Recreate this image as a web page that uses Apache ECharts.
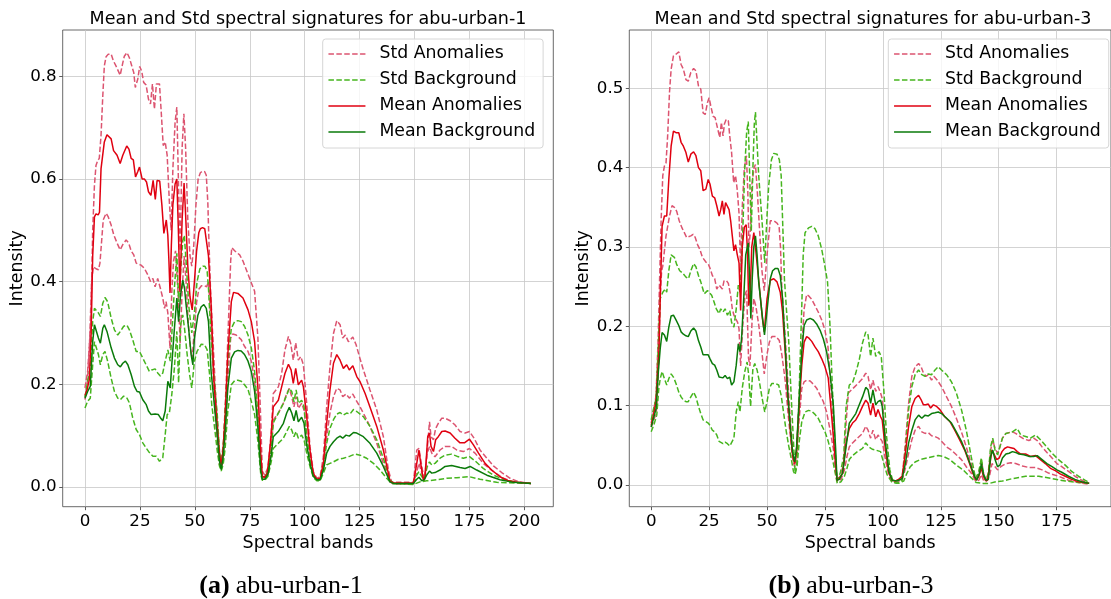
<!DOCTYPE html>
<html><head><meta charset="utf-8">
<script src="https://cdn.jsdelivr.net/npm/echarts@6/dist/echarts.min.js"></script>
<style>html,body{margin:0;padding:0;background:#fff}#c{width:1111px;height:599px}</style>
</head><body><div id="c"></div>
<script>
// ---------- tick labels ----------
const xTicks1 = [0,25,50,75,100,125,150,175,200];
const xTicks3 = [0,25,50,75,100,125,150,175];
const yTicks1 = [0,0.2,0.4,0.6,0.8];
const yTicks3 = [0,0.1,0.2,0.3,0.4,0.5];
const legendNames = ['Std Anomalies','Std Background','Mean Anomalies','Mean Background'];

// ---------- abu-urban-1 : [band, intensity] ----------
const u1MeanAnom = [[0,0.178],[1,0.19],[2,0.21],[2.8,0.30],[3.5,0.45],[4.3,0.526],[5,0.532],[6,0.53],[6.6,0.535],[7.3,0.62],[8.8,0.672],[10,0.686],[11.9,0.678],[13,0.655],[14.6,0.646],[16,0.63],[17.2,0.646],[19,0.664],[20,0.658],[21,0.64],[22,0.637],[23,0.604],[24,0.614],[24.8,0.623],[26,0.60],[27,0.60],[28,0.594],[28.9,0.575],[30,0.568],[31,0.597],[32,0.56],[32.8,0.597],[34,0.596],[35,0.549],[35.9,0.494],[37,0.52],[37.7,0.49],[38.2,0.44],[38.7,0.378],[39.3,0.47],[40,0.55],[41,0.59],[41.8,0.60],[42.5,0.50],[43.2,0.38],[44.2,0.52],[45.1,0.592],[45.8,0.53],[46.8,0.43],[47.8,0.37],[48.8,0.345],[49.8,0.40],[50.8,0.46],[51.8,0.495],[52.5,0.503],[53.5,0.505],[54.5,0.503],[55.2,0.50],[56.2,0.45],[57.4,0.355],[58.7,0.206],[60.2,0.115],[61.2,0.064],[62,0.042],[62.8,0.07],[63.8,0.14],[65,0.258],[66.6,0.361],[67.6,0.379],[69.6,0.377],[71.9,0.368],[74.2,0.345],[75.7,0.322],[77.2,0.283],[78.7,0.193],[80,0.064],[80.7,0.021],[81.8,0.019],[83,0.027],[84.5,0.089],[85.7,0.156],[88,0.169],[89.5,0.195],[91,0.221],[92.6,0.239],[93.8,0.228],[94.8,0.202],[95.9,0.231],[97.1,0.199],[98.6,0.208],[99.4,0.195],[100.9,0.137],[102.4,0.072],[103.9,0.027],[105.5,0.015],[107,0.017],[108.5,0.046],[110,0.124],[111.5,0.189],[113.1,0.241],[114.6,0.258],[116.1,0.247],[117.6,0.231],[119.1,0.238],[120.3,0.228],[121.9,0.236],[123.7,0.215],[125.2,0.205],[127.5,0.182],[129.7,0.156],[132.8,0.118],[135.8,0.072],[138.8,0.012],[140.4,0.008],[145,0.008],[149.5,0.008],[151,0.046],[152,0.072],[152.8,0.046],[154,0.014],[154.8,0.02],[156,0.098],[156.8,0.105],[157.5,0.079],[158.6,0.069],[159.6,0.092],[160.8,0.098],[162.4,0.108],[163.9,0.109],[166.2,0.105],[168.4,0.095],[170.7,0.086],[172.7,0.086],[175,0.093],[176.8,0.082],[179.1,0.066],[182.1,0.046],[185.1,0.033],[188.9,0.020],[192.7,0.012],[196.5,0.009],[203,0.007]];
const u1MeanBg = [[0,0.173],[1.2,0.186],[2.4,0.196],[3.5,0.283],[4.3,0.316],[5,0.313],[6.1,0.29],[7,0.28],[8.1,0.309],[8.8,0.316],[10,0.303],[11.9,0.271],[13.4,0.251],[14.9,0.238],[16.1,0.234],[17.2,0.241],[18.4,0.245],[19.5,0.238],[21,0.219],[22.5,0.196],[23.7,0.186],[24.8,0.185],[26.3,0.170],[27.8,0.161],[28.9,0.148],[30.1,0.141],[31.9,0.142],[33.4,0.141],[34.3,0.135],[35.4,0.129],[36.5,0.148],[37.7,0.206],[38.8,0.193],[39.5,0.238],[40.7,0.309],[41.8,0.368],[42.6,0.322],[43.5,0.374],[44.5,0.403],[45.3,0.387],[46,0.355],[47.3,0.303],[48.3,0.258],[49.1,0.238],[49.8,0.29],[51.4,0.335],[52.9,0.351],[54.1,0.355],[55.2,0.348],[56.2,0.322],[57.4,0.225],[59,0.154],[60.2,0.102],[61.2,0.05],[62,0.034],[62.8,0.057],[63.8,0.109],[65,0.193],[66.6,0.251],[68.1,0.263],[69.6,0.266],[71.1,0.265],[72.6,0.258],[74.2,0.245],[75.7,0.225],[77.2,0.186],[78.7,0.115],[80,0.031],[80.7,0.015],[81.8,0.015],[83.3,0.025],[84.8,0.063],[85.7,0.098],[88,0.108],[90.3,0.124],[91.8,0.144],[93,0.155],[94.1,0.144],[95.1,0.129],[96.1,0.149],[97.1,0.127],[98.6,0.136],[99.7,0.124],[100.9,0.082],[102.4,0.046],[103.9,0.021],[105.5,0.014],[107,0.014],[108.5,0.033],[110,0.066],[111.5,0.079],[113.1,0.088],[114.6,0.095],[116.1,0.099],[117.3,0.095],[118.8,0.101],[120.3,0.099],[122.2,0.106],[123.7,0.105],[126.7,0.098],[129.7,0.085],[132.8,0.066],[135.8,0.040],[138.8,0.010],[140.4,0.007],[149.5,0.007],[151,0.015],[152,0.019],[153.3,0.012],[154.4,0.014],[155.5,0.023],[156.8,0.031],[157.8,0.027],[159.3,0.028],[161.6,0.033],[163.9,0.040],[166.9,0.042],[170.7,0.038],[173,0.036],[175.3,0.040],[178.3,0.033],[182.9,0.023],[188.9,0.014],[195,0.009],[203,0.007]];
const u1StdAnomHi = [[0,0.193],[1.2,0.225],[2.7,0.322],[3.5,0.50],[4.3,0.588],[5,0.626],[5.8,0.636],[6.5,0.64],[7.3,0.685],[8.1,0.762],[8.8,0.82],[9.6,0.838],[10.6,0.843],[11.9,0.843],[12.9,0.83],[14.1,0.82],[14.9,0.817],[16,0.802],[17.2,0.826],[17.9,0.839],[19.1,0.846],[20.2,0.836],[21.3,0.82],[22.2,0.807],[22.9,0.778],[24,0.794],[24.9,0.819],[25.8,0.81],[26.7,0.788],[27.8,0.783],[28.9,0.755],[29.8,0.746],[30.7,0.785],[31.6,0.736],[32.5,0.785],[33.9,0.785],[34.7,0.73],[35.6,0.665],[36.5,0.672],[37.4,0.646],[38.4,0.555],[39.2,0.50],[40,0.62],[41,0.71],[41.8,0.74],[42.5,0.60],[43.3,0.46],[44.2,0.66],[45,0.727],[45.8,0.66],[46.8,0.52],[47.8,0.45],[48.6,0.43],[49.5,0.47],[50.5,0.55],[51.5,0.60],[52.5,0.612],[53.5,0.615],[54.5,0.614],[55.2,0.607],[55.9,0.555],[56.4,0.48],[57.1,0.387],[58.2,0.29],[59.7,0.16],[61.2,0.07],[62,0.05],[63.1,0.089],[64.3,0.206],[65.3,0.322],[66.3,0.44],[66.8,0.466],[68.1,0.46],[70.4,0.452],[71.9,0.44],[74.6,0.41],[77.2,0.381],[78.7,0.29],[80,0.128],[80.7,0.031],[81.8,0.023],[83.3,0.038],[84.8,0.109],[85.7,0.182],[88,0.195],[89.5,0.221],[91,0.267],[92.6,0.293],[93.6,0.28],[94.8,0.247],[95.9,0.281],[97.1,0.247],[98.2,0.254],[99.4,0.238],[100.9,0.163],[102.4,0.079],[103.9,0.03],[105.5,0.017],[107,0.02],[108.5,0.059],[110,0.156],[111.5,0.234],[113.1,0.299],[114.6,0.324],[116.1,0.316],[117.3,0.29],[118.5,0.296],[119.9,0.283],[121.9,0.292],[123.4,0.277],[124.9,0.254],[126.7,0.228],[129.7,0.189],[132.8,0.15],[135.8,0.098],[138.1,0.033],[139.6,0.009],[149.5,0.009],[151,0.072],[152,0.075],[153.3,0.04],[154.4,0.014],[155.5,0.059],[156.8,0.127],[157.5,0.098],[158.6,0.092],[159.6,0.114],[160.8,0.124],[162.4,0.134],[163.9,0.134],[166.2,0.129],[168.4,0.121],[170.7,0.108],[173,0.105],[175,0.108],[177.1,0.095],[179.8,0.072],[182.9,0.056],[185.9,0.041],[189.7,0.028],[193.5,0.017],[197.3,0.01],[203,0.007]];
const u1StdAnomLo = [[0,0.17],[1,0.20],[2,0.27],[3,0.40],[3.8,0.429],[5,0.425],[6.1,0.423],[6.8,0.436],[8.3,0.52],[9.6,0.533],[10.6,0.526],[11.9,0.51],[13.1,0.491],[14.6,0.475],[16,0.462],[17.2,0.472],[18.7,0.481],[19.9,0.475],[21,0.46],[22.2,0.452],[23.3,0.436],[24,0.439],[25.5,0.432],[27,0.426],[28.6,0.413],[29.8,0.40],[30.9,0.406],[31.9,0.39],[33.1,0.406],[34.3,0.387],[35.4,0.368],[36.2,0.348],[36.9,0.361],[37.7,0.339],[38.7,0.27],[39.5,0.38],[40.3,0.44],[41.2,0.46],[41.9,0.46],[42.6,0.36],[43.3,0.28],[44.2,0.38],[45.1,0.45],[46,0.40],[47,0.32],[48,0.27],[48.8,0.25],[49.8,0.31],[50.8,0.36],[51.8,0.385],[53,0.392],[54.4,0.392],[55.4,0.39],[56.2,0.40],[57.4,0.32],[58.7,0.18],[60.2,0.09],[61.2,0.044],[62,0.034],[62.8,0.05],[63.8,0.1],[65,0.206],[66.3,0.29],[67.3,0.298],[68.8,0.296],[71.1,0.287],[72.6,0.274],[74.2,0.264],[75.7,0.245],[77.2,0.206],[78.7,0.128],[80,0.038],[80.7,0.018],[82,0.018],[83.3,0.025],[84.8,0.07],[85.7,0.13],[88,0.144],[90.3,0.163],[91.8,0.182],[93,0.192],[94.1,0.176],[95.1,0.156],[96.1,0.176],[97.1,0.153],[98.6,0.163],[99.7,0.15],[100.9,0.105],[102.4,0.059],[103.9,0.023],[105.5,0.014],[107,0.014],[108.5,0.036],[110,0.098],[111.5,0.144],[113.1,0.176],[114.6,0.192],[116.1,0.189],[117.3,0.176],[118.8,0.181],[120.3,0.173],[121.9,0.181],[123.4,0.169],[125.2,0.156],[127.5,0.137],[129.7,0.118],[132.8,0.085],[135.8,0.046],[138.8,0.01],[140.4,0.006],[149.5,0.006],[151,0.03],[152,0.046],[153.3,0.027],[154.4,0.012],[155.8,0.066],[156.8,0.079],[157.8,0.066],[159.3,0.059],[161.6,0.072],[163.9,0.079],[166.9,0.079],[169.2,0.072],[172.2,0.069],[175,0.075],[177.5,0.066],[181.3,0.046],[185.9,0.03],[190.4,0.017],[195,0.01],[203,0.007]];
const u1StdBgHi = [[0,0.175],[1.2,0.206],[2.4,0.232],[3.5,0.322],[4.3,0.348],[5,0.351],[6.1,0.339],[7,0.332],[8.1,0.358],[9.1,0.369],[10.3,0.361],[11.9,0.329],[13.4,0.306],[14.9,0.296],[16.1,0.303],[17.6,0.313],[19.1,0.315],[20.2,0.306],[21.7,0.287],[23.3,0.264],[24.8,0.264],[26.3,0.251],[27.8,0.238],[29.3,0.225],[30.4,0.228],[31.9,0.23],[33.1,0.222],[34.3,0.216],[35.4,0.222],[36.5,0.245],[37.7,0.267],[38.8,0.245],[39.5,0.296],[40.7,0.387],[41.8,0.455],[42.6,0.36],[43.5,0.42],[44.5,0.48],[45.2,0.49],[46,0.44],[47.3,0.35],[48.6,0.30],[49.8,0.34],[51,0.40],[52.3,0.425],[53.6,0.43],[54.6,0.43],[55.6,0.42],[56.2,0.387],[57.4,0.29],[59,0.2],[60.2,0.141],[61.2,0.07],[62,0.044],[62.9,0.076],[63.8,0.148],[65,0.245],[66.6,0.309],[68.1,0.322],[69.6,0.324],[71.1,0.322],[72.6,0.313],[74.2,0.296],[75.7,0.271],[77.2,0.225],[78.7,0.141],[80,0.05],[80.7,0.019],[81.8,0.019],[83.3,0.031],[84.8,0.076],[85.7,0.125],[88,0.144],[90.3,0.163],[91.8,0.179],[93,0.192],[94.1,0.186],[95.1,0.166],[96.1,0.189],[97.1,0.163],[98.6,0.169],[99.7,0.156],[100.9,0.098],[102.4,0.053],[103.9,0.023],[105.5,0.012],[107,0.014],[108.5,0.04],[110,0.085],[111.5,0.114],[113.1,0.131],[114.6,0.142],[116.1,0.145],[117.6,0.14],[119.1,0.144],[120.6,0.142],[122.2,0.151],[123.7,0.147],[126.7,0.137],[129.7,0.118],[132.8,0.092],[135.8,0.056],[138.8,0.014],[140.4,0.007],[149.5,0.007],[151,0.023],[152,0.03],[153.3,0.02],[154.4,0.015],[155.8,0.04],[156.8,0.049],[157.8,0.043],[159.3,0.046],[161.6,0.056],[163.9,0.062],[166.9,0.064],[169.2,0.06],[172.2,0.056],[175,0.059],[177.5,0.051],[181.3,0.036],[185.9,0.023],[190.4,0.015],[196.5,0.009],[203,0.007]];
const u1StdBgLo = [[0,0.154],[1.2,0.167],[2.4,0.173],[3.5,0.238],[4.3,0.283],[5,0.285],[6.1,0.258],[7,0.238],[8.1,0.258],[9.1,0.264],[10.3,0.245],[11.9,0.212],[13.4,0.186],[14.9,0.173],[16.1,0.17],[17.6,0.177],[19.1,0.173],[20.2,0.164],[21.7,0.135],[23.3,0.112],[24.8,0.102],[26.3,0.086],[27.8,0.076],[29.3,0.067],[30.9,0.06],[32.4,0.06],[33.9,0.05],[34.7,0.049],[35.4,0.057],[36.5,0.102],[37.4,0.141],[38.4,0.144],[39.5,0.18],[40.7,0.232],[41.8,0.303],[42.6,0.203],[43.5,0.316],[44.5,0.335],[45.3,0.309],[46.5,0.258],[47.6,0.219],[48.6,0.193],[49.8,0.245],[51,0.264],[52.9,0.278],[54.4,0.277],[55.6,0.267],[56.7,0.219],[57.7,0.16],[59,0.115],[60.2,0.07],[61.2,0.041],[62,0.031],[62.9,0.044],[63.8,0.076],[65,0.148],[66.6,0.199],[68.1,0.207],[69.6,0.208],[71.1,0.206],[72.6,0.199],[74.2,0.19],[75.7,0.167],[77.2,0.141],[78.7,0.089],[80,0.025],[80.7,0.013],[81.8,0.013],[83.3,0.021],[84.8,0.05],[85.7,0.075],[88,0.085],[90.3,0.095],[91.8,0.108],[93,0.118],[94.1,0.111],[95.1,0.098],[96.1,0.108],[97.1,0.095],[98.6,0.101],[99.7,0.092],[100.9,0.066],[102.4,0.04],[103.9,0.019],[105.5,0.012],[107,0.012],[108.5,0.027],[110,0.043],[111.5,0.046],[113.1,0.049],[115.3,0.054],[117.6,0.056],[120.6,0.06],[122.9,0.064],[125.2,0.062],[128.2,0.056],[131.3,0.046],[134.3,0.033],[137.3,0.017],[139.6,0.007],[149.5,0.005],[152.5,0.01],[155.5,0.012],[160.1,0.014],[164.6,0.017],[169.2,0.018],[175,0.02],[179.8,0.015],[187.4,0.009],[203,0.007]];

// ---------- abu-urban-3 : [band, intensity] ----------
const u3MeanAnom = [[0,0.075],[1,0.088],[2.1,0.105],[3.3,0.164],[4,0.247],[4.7,0.326],[5.7,0.339],[6.7,0.339],[7.6,0.385],[8.6,0.427],[9.6,0.446],[10.7,0.444],[11.9,0.444],[12.9,0.432],[13.9,0.427],[15,0.419],[16,0.407],[17.1,0.417],[18.3,0.42],[19.3,0.415],[20.4,0.40],[21.4,0.396],[22.4,0.371],[23.6,0.373],[24.6,0.385],[25.4,0.379],[26.4,0.364],[27.4,0.362],[28.3,0.352],[29.3,0.339],[30,0.347],[30.7,0.358],[31.4,0.341],[32.1,0.356],[32.9,0.358],[33.6,0.347],[34.3,0.333],[35,0.314],[35.7,0.295],[36.4,0.303],[37.1,0.291],[37.9,0.28],[38.6,0.22],[39.3,0.30],[40.2,0.325],[41,0.328],[41.6,0.29],[42.1,0.226],[42.7,0.24],[43.4,0.30],[44.3,0.318],[45,0.30],[46,0.27],[47,0.24],[48,0.21],[48.8,0.193],[50,0.235],[51.4,0.258],[52.9,0.26],[54.3,0.256],[55.7,0.243],[56.7,0.218],[57.9,0.164],[59,0.109],[60,0.071],[61,0.038],[61.9,0.027],[62.7,0.042],[63.9,0.101],[65,0.151],[66,0.18],[67.1,0.187],[68.1,0.185],[69.3,0.181],[70.7,0.174],[72.1,0.168],[73.6,0.159],[75,0.149],[76.4,0.135],[77.8,0.09],[79.2,0.04],[80.2,0.006],[81.2,0.008],[82.6,0.015],[84.1,0.053],[85.5,0.071],[86.9,0.078],[88.3,0.082],[89.8,0.09],[91.2,0.099],[92.6,0.107],[93.6,0.103],[94.7,0.088],[95.7,0.103],[96.9,0.086],[97.9,0.095],[99,0.086],[99.7,0.082],[101.1,0.044],[102.6,0.015],[104,0.006],[105.4,0.005],[106.8,0.007],[108.3,0.011],[109.7,0.04],[111.1,0.074],[112.5,0.099],[113.9,0.109],[115.4,0.113],[116.4,0.108],[117.5,0.101],[118.5,0.101],[119.6,0.102],[120.6,0.097],[121.8,0.101],[123.2,0.099],[124.6,0.095],[126.7,0.086],[128.9,0.08],[131,0.069],[133.1,0.057],[135.3,0.044],[137.4,0.027],[138.8,0.015],[140.3,0.006],[141.4,0.011],[142.5,0.021],[143.4,0.011],[144.2,0.006],[145.2,0.006],[146.2,0.027],[147.1,0.044],[148.1,0.038],[149.1,0.032],[150.2,0.034],[151.4,0.042],[152.5,0.046],[153.8,0.048],[155.2,0.047],[156.6,0.046],[158,0.042],[159.5,0.039],[161.6,0.039],[163.7,0.036],[165.9,0.037],[168,0.032],[170.1,0.027],[172.3,0.021],[174.4,0.018],[176.5,0.014],[178.7,0.011],[181.5,0.007],[184.4,0.004],[187.2,0.003],[189,0.002]];
const u3MeanBg = [[0,0.073],[1,0.084],[2.1,0.096],[3.1,0.143],[3.9,0.172],[4.7,0.192],[5.7,0.189],[6.7,0.181],[7.6,0.199],[8.6,0.213],[9.6,0.214],[10.7,0.208],[11.9,0.201],[12.9,0.193],[13.9,0.19],[15,0.188],[16,0.187],[17.1,0.194],[18.3,0.198],[19.3,0.194],[20.4,0.182],[21.4,0.174],[22.4,0.164],[23.6,0.164],[24.6,0.164],[25.4,0.159],[26.4,0.153],[27.4,0.151],[28.3,0.145],[29.3,0.136],[30,0.138],[31,0.135],[31.9,0.138],[32.9,0.134],[33.9,0.136],[34.7,0.126],[35.7,0.13],[36.7,0.151],[37.6,0.178],[38.3,0.168],[39,0.184],[40,0.239],[40.8,0.29],[41.9,0.305],[42.5,0.26],[43,0.21],[43.6,0.26],[44.3,0.30],[45,0.314],[45.7,0.29],[46.4,0.256],[47.9,0.214],[48.9,0.189],[50,0.22],[51.4,0.26],[52.4,0.27],[53.6,0.273],[54.7,0.273],[55.7,0.264],[56.7,0.235],[57.9,0.172],[59,0.113],[60,0.075],[61,0.042],[61.9,0.029],[62.7,0.046],[63.9,0.109],[65,0.168],[66,0.201],[67.1,0.208],[68.6,0.21],[70,0.208],[71.4,0.203],[72.9,0.195],[74.3,0.184],[75.7,0.168],[77.1,0.143],[78.6,0.101],[79.6,0.046],[80.2,0.006],[81.2,0.007],[82.6,0.015],[84.1,0.048],[85.5,0.078],[86.9,0.084],[88.3,0.09],[89.8,0.101],[91.2,0.111],[92.6,0.123],[93.6,0.12],[94.7,0.103],[95.7,0.12],[96.9,0.101],[97.9,0.105],[99,0.107],[99.7,0.099],[101.1,0.053],[102.6,0.017],[104,0.006],[106.1,0.005],[108.3,0.008],[109.7,0.027],[111.1,0.053],[112.5,0.069],[113.9,0.082],[115.4,0.088],[116.8,0.084],[118.2,0.088],[119.6,0.087],[121,0.09],[122.5,0.091],[123.9,0.092],[125.3,0.09],[127.5,0.084],[129.6,0.078],[131.7,0.067],[133.9,0.055],[136,0.04],[138.1,0.023],[139.5,0.011],[140.5,0.006],[141.7,0.015],[142.5,0.027],[143.4,0.013],[144.5,0.006],[145.5,0.007],[146.5,0.036],[147.4,0.044],[148.4,0.032],[149.5,0.023],[150.5,0.025],[151.6,0.034],[153.1,0.039],[154.5,0.04],[155.9,0.042],[157.3,0.041],[158.7,0.039],[160.9,0.038],[163,0.036],[165.1,0.036],[166.6,0.037],[168.7,0.032],[170.8,0.027],[173,0.023],[175.1,0.019],[177.2,0.016],[180.1,0.011],[182.9,0.007],[185.8,0.004],[189,0.002]];
const u3StdAnomHi = [[0,0.078],[1,0.092],[2.1,0.113],[3,0.184],[3.6,0.256],[4.3,0.335],[5,0.39],[5.7,0.402],[6.4,0.406],[7.1,0.44],[7.9,0.495],[8.6,0.524],[9.6,0.541],[10.7,0.543],[11.9,0.546],[12.9,0.53],[13.9,0.524],[15,0.511],[16,0.509],[17.1,0.52],[18.3,0.525],[19.3,0.522],[20.4,0.503],[21.4,0.499],[22.4,0.469],[23.3,0.467],[24.3,0.482],[25,0.488],[25.7,0.478],[26.7,0.465],[27.6,0.463],[28.6,0.45],[29.6,0.438],[30.3,0.457],[31,0.44],[31.6,0.455],[32.4,0.461],[33.3,0.459],[33.9,0.44],[34.7,0.419],[35.6,0.381],[36.4,0.39],[37.1,0.373],[37.9,0.343],[38.6,0.27],[39.3,0.35],[40.2,0.40],[41.1,0.415],[41.7,0.37],[42.2,0.30],[42.8,0.32],[43.5,0.38],[44.4,0.40],[45,0.404],[45.8,0.37],[46.8,0.32],[47.8,0.27],[48.8,0.245],[50,0.29],[51.4,0.333],[52.9,0.333],[54.3,0.33],[55.2,0.326],[55.8,0.30],[56.4,0.247],[57.9,0.184],[59,0.13],[60,0.084],[61,0.042],[61.9,0.025],[62.7,0.042],[63.9,0.109],[65,0.172],[66,0.222],[67.1,0.24],[68.1,0.238],[69.3,0.234],[70.7,0.226],[72.1,0.218],[73.6,0.208],[75,0.195],[76.3,0.174],[77.8,0.115],[79.1,0.045],[80.2,0.007],[81.6,0.011],[83.1,0.027],[84.1,0.078],[85.1,0.116],[86.5,0.12],[87.9,0.124],[89.3,0.128],[91.2,0.134],[92.6,0.141],[93.6,0.137],[94.7,0.12],[95.7,0.132],[96.9,0.118],[97.9,0.124],[99,0.116],[99.7,0.109],[101.1,0.057],[102.6,0.019],[104,0.006],[106.1,0.005],[108.3,0.008],[109.7,0.053],[111.1,0.103],[112.5,0.137],[113.9,0.149],[115.4,0.153],[116.5,0.149],[117.5,0.141],[118.6,0.137],[119.6,0.139],[121,0.132],[122,0.137],[123.5,0.132],[125.3,0.124],[127.5,0.111],[129.6,0.099],[131.7,0.084],[133.9,0.067],[136,0.048],[138.1,0.027],[140,0.008],[141.4,0.015],[142.5,0.032],[143.4,0.015],[144.5,0.006],[145.5,0.011],[146.5,0.044],[147.4,0.057],[148.4,0.046],[149.5,0.04],[150.5,0.048],[151.6,0.059],[153.1,0.065],[154.5,0.066],[155.9,0.067],[157.3,0.065],[158.7,0.062],[160.9,0.058],[163,0.056],[165.1,0.059],[166.6,0.056],[168.7,0.048],[170.8,0.041],[173,0.034],[175.1,0.027],[177.2,0.023],[180.1,0.017],[182.9,0.011],[185.8,0.006],[189,0.002]];
const u3StdAnomLo = [[0,0.073],[1.4,0.084],[2.4,0.096],[3.3,0.164],[3.9,0.239],[4.5,0.27],[5,0.276],[6.4,0.314],[7.9,0.339],[9,0.352],[10,0.35],[11,0.345],[12.1,0.333],[13.3,0.324],[14.3,0.318],[15.3,0.312],[16.1,0.312],[17.1,0.314],[18.1,0.316],[19,0.312],[20,0.303],[21,0.297],[22.1,0.287],[23.6,0.281],[24.6,0.279],[25.4,0.273],[26.4,0.264],[27.4,0.26],[28.3,0.247],[29.3,0.252],[30,0.254],[30.7,0.247],[31.4,0.257],[32.4,0.258],[33.3,0.254],[34.3,0.239],[35,0.222],[35.7,0.214],[36.4,0.216],[37.3,0.205],[37.9,0.197],[38.6,0.15],[39.5,0.2],[40.5,0.24],[41.2,0.245],[42,0.16],[42.6,0.15],[43.6,0.21],[44.3,0.235],[45.2,0.225],[46.5,0.2],[47.5,0.175],[48.8,0.14],[50,0.165],[51,0.18],[52.1,0.187],[53.9,0.187],[55.3,0.182],[56.4,0.164],[57.9,0.13],[59,0.092],[60,0.063],[61,0.034],[61.9,0.023],[62.7,0.038],[63.9,0.084],[65,0.122],[66,0.13],[67.1,0.132],[68.6,0.131],[70,0.127],[71.4,0.122],[72.9,0.113],[74.3,0.105],[75.7,0.092],[77.1,0.071],[78.6,0.046],[79.6,0.015],[80.3,0.004],[81.9,0.007],[83.4,0.019],[84.5,0.036],[85.5,0.048],[86.9,0.053],[89,0.059],[91.2,0.065],[92.6,0.074],[93.6,0.069],[94.7,0.059],[95.7,0.069],[96.9,0.057],[97.9,0.063],[99,0.058],[99.7,0.055],[101.1,0.032],[102.6,0.011],[104,0.004],[106.1,0.003],[108.3,0.006],[109.7,0.021],[111.1,0.04],[112.5,0.057],[113.9,0.069],[115.4,0.074],[116.8,0.067],[118.2,0.065],[119.6,0.066],[121,0.062],[122.5,0.061],[123.9,0.059],[125.3,0.055],[127.5,0.048],[129.6,0.044],[131.7,0.038],[133.9,0.032],[136,0.023],[138.1,0.015],[140,0.005],[141.4,0.006],[142.5,0.013],[143.4,0.006],[144.5,0.004],[146,0.011],[147.1,0.027],[148.4,0.023],[149.5,0.019],[150.9,0.023],[153.1,0.027],[155.2,0.028],[157.3,0.027],[160.2,0.024],[163,0.022],[165.9,0.022],[168.7,0.019],[171.5,0.015],[175.8,0.011],[180.1,0.006],[184.4,0.003],[189,0.001]];
const u3StdBgHi = [[0,0.082],[1,0.096],[2.1,0.109],[2.9,0.164],[3.9,0.235],[5,0.243],[6.1,0.247],[6.7,0.243],[7.6,0.27],[8.6,0.29],[9.3,0.292],[10,0.287],[11,0.278],[12.3,0.27],[13.6,0.267],[15,0.262],[16.1,0.26],[17.1,0.27],[18.3,0.279],[19.3,0.275],[20.4,0.264],[21.4,0.256],[22.9,0.241],[24.3,0.245],[25,0.247],[26.1,0.239],[27.1,0.231],[28.1,0.222],[29.3,0.216],[30,0.222],[31,0.218],[31.9,0.222],[32.9,0.214],[33.9,0.22],[34.7,0.205],[35.7,0.199],[36.7,0.222],[37.6,0.252],[38.3,0.243],[39.3,0.30],[40.4,0.40],[41.2,0.445],[41.9,0.458],[42.6,0.38],[43.2,0.32],[43.9,0.40],[44.5,0.455],[45,0.47],[45.7,0.43],[46.4,0.39],[47.9,0.33],[49,0.28],[50,0.34],[50.7,0.377],[51.9,0.41],[52.9,0.418],[54.3,0.417],[55.3,0.41],[56.1,0.39],[56.7,0.335],[57.5,0.26],[58.4,0.22],[59.3,0.184],[60.4,0.113],[61.4,0.055],[62.1,0.015],[62.9,0.029],[63.9,0.122],[65,0.226],[65.6,0.29],[66.4,0.318],[67.9,0.324],[69.3,0.326],[70.7,0.323],[72.1,0.314],[73.6,0.297],[74.7,0.28],[76.1,0.256],[77.1,0.205],[78.1,0.13],[79.2,0.055],[80.2,0.006],[81.6,0.015],[83.1,0.036],[84.1,0.099],[85.5,0.126],[86.9,0.129],[88.3,0.141],[89.8,0.158],[91.2,0.179],[92.6,0.193],[93.6,0.189],[94.7,0.162],[95.7,0.185],[96.9,0.162],[98.3,0.168],[99.3,0.162],[100.4,0.12],[101.6,0.061],[103,0.019],[104.4,0.004],[106.1,0.002],[108.3,0.006],[109.7,0.044],[111.1,0.095],[112.5,0.124],[113.9,0.139],[115.4,0.145],[116.8,0.139],[118.2,0.137],[119.6,0.14],[121,0.139],[122.5,0.145],[123.9,0.149],[125.3,0.145],[127.5,0.139],[129.6,0.13],[131.7,0.116],[133.9,0.095],[136,0.069],[138.1,0.036],[140,0.008],[141.4,0.017],[142.5,0.034],[143.4,0.015],[144.5,0.006],[145.5,0.015],[146.5,0.048],[147.4,0.059],[148.4,0.044],[149.5,0.038],[150.5,0.048],[151.6,0.059],[153.1,0.065],[154.5,0.066],[155.9,0.067],[158,0.071],[159.5,0.063],[161.6,0.061],[163.7,0.059],[165.9,0.063],[168,0.057],[170.1,0.05],[173,0.04],[175.8,0.032],[178.7,0.025],[181.5,0.017],[184.4,0.011],[187.2,0.006],[189,0.003]];
const u3StdBgLo = [[0,0.067],[1.4,0.078],[2.4,0.088],[3.3,0.122],[3.9,0.134],[4.7,0.143],[5.7,0.134],[6.7,0.126],[7.6,0.134],[8.6,0.14],[9.6,0.136],[10.7,0.128],[11.9,0.117],[12.9,0.111],[13.9,0.107],[15,0.105],[16,0.105],[17.1,0.111],[18.3,0.117],[19.3,0.111],[20.4,0.099],[21.4,0.09],[22.4,0.082],[23.6,0.08],[24.6,0.078],[25.4,0.075],[26.4,0.069],[27.4,0.067],[28.3,0.063],[29.3,0.055],[30,0.054],[31,0.052],[31.9,0.054],[32.9,0.052],[33.9,0.049],[34.7,0.047],[35.7,0.059],[36.7,0.092],[37.6,0.105],[38.3,0.092],[39.3,0.122],[40.4,0.143],[41.4,0.155],[42.1,0.138],[42.9,0.099],[43.9,0.147],[44.7,0.153],[45.7,0.145],[46.7,0.13],[47.9,0.109],[49,0.092],[50,0.105],[51,0.122],[52.1,0.128],[53.6,0.128],[55,0.126],[56.1,0.113],[57.1,0.092],[58.1,0.071],[59.3,0.05],[60.4,0.034],[61.4,0.017],[62.1,0.013],[63,0.025],[63.9,0.055],[65,0.08],[66.4,0.092],[67.9,0.094],[69.3,0.093],[70.7,0.089],[72.1,0.084],[73.6,0.075],[75,0.067],[76.4,0.055],[77.9,0.038],[79.3,0.017],[80.3,0.002],[81.9,0.004],[83.4,0.011],[84.5,0.021],[85.5,0.032],[86.9,0.037],[89,0.042],[91.2,0.046],[92.6,0.053],[94,0.048],[95.4,0.045],[96.9,0.044],[99,0.042],[100.4,0.027],[101.8,0.013],[104,0.003],[106.8,0.002],[109,0.005],[110.4,0.015],[111.8,0.023],[113.9,0.029],[116.1,0.032],[118.9,0.034],[121.8,0.036],[123.9,0.037],[126,0.036],[128.9,0.032],[131.7,0.025],[134.6,0.019],[137.4,0.011],[140.3,0.003],[143.1,0.002],[146,0.002],[148.8,0.004],[151.6,0.005],[155.9,0.008],[161.6,0.011],[167.3,0.011],[173,0.008],[178.7,0.005],[184.4,0.003],[189,0.002]];

// ---------- styles ----------
const C_STD_ANOM = '#dc5470';
const C_STD_BG = '#46b51e';
const C_MEAN_ANOM = '#e00010';
const C_MEAN_BG = '#0a7a0a';
const FONT = 'DejaVu Sans';
const DASH = [5.5, 2.4];

function xAx(gi, min, max, ticks) {
  return {type:'value', gridIndex:gi, min:min, max:max,
    axisLine:{show:false, onZero:false},
    axisTick:{show:true, length:3.5, lineStyle:{color:'#333', width:0.8}, customValues:ticks},
    axisLabel:{customValues:ticks, fontSize:16.7, fontFamily:FONT, color:'#000', margin:6},
    splitLine:{show:true, lineStyle:{color:'#c8c8c8', width:0.8}},
    name:'Spectral bands', nameLocation:'middle', nameGap:25,
    nameTextStyle:{fontSize:17.5, fontFamily:FONT, color:'#000'}};
}
function yAx(gi, min, max, ticks) {
  return {type:'value', gridIndex:gi, min:min, max:max,
    axisLine:{show:false, onZero:false},
    axisTick:{show:true, length:3.5, lineStyle:{color:'#333', width:0.8}, customValues:ticks},
    axisLabel:{customValues:ticks, fontSize:16.7, fontFamily:FONT, color:'#000', margin:6,
      formatter:function(v){return v.toFixed(1);}},
    splitLine:{show:true, lineStyle:{color:'#c8c8c8', width:0.8}},
    name:'Intensity', nameLocation:'middle', nameGap:36,
    nameTextStyle:{fontSize:17.5, fontFamily:FONT, color:'#000'}};
}
function ln(name, data, gi, color, dashed, z) {
  return {type:'line', name:name, xAxisIndex:gi, yAxisIndex:gi, data:data,
    showSymbol:false, symbol:'none', silent:true, animation:false, z:z,
    lineStyle:{color:color, width:1.5, type: dashed ? DASH : 'solid'},
    itemStyle:{color:color}};
}
function lg(left) {
  return {data:legendNames, orient:'vertical', left:left, top:39,
    itemWidth:37, itemHeight:14, itemGap:6, padding:[5,8,6,5],
    backgroundColor:'rgba(255,255,255,0.8)', borderColor:'#d6d6d6', borderWidth:1, borderRadius:3,
    selectedMode:false,
    itemStyle:{opacity:0, borderWidth:0},
    lineStyle:{width:1.5},
    textStyle:{fontSize:17.3, fontFamily:FONT, color:'#000', lineHeight:20, padding:[0,0,0,9]}};
}
const capRich = {b:{fontFamily:'Liberation Serif', fontWeight:'bold', fontSize:26, fill:'#000'},
                 r:{fontFamily:'Liberation Serif', fontSize:26, fill:'#000', padding:[0,0,0,6]}};

const chart = echarts.init(document.getElementById('c'), null, {renderer:'canvas'});
chart.setOption({
  backgroundColor:'#fff',
  animation:false,
  grid:[
    {left:62.7, top:30, width:490.6, height:476.7, show:true, borderColor:'#444', borderWidth:0.8, containLabel:false},
    {left:629.3, top:30, width:487.2, height:476.7, show:true, borderColor:'#444', borderWidth:0.8, containLabel:false}
  ],
  xAxis:[xAx(0,-10.15,213.15,xTicks1), xAx(1,-9.45,198.45,xTicks3)],
  yAxis:[yAx(0,-0.0384,0.890,yTicks1), yAx(1,-0.0274,0.5735,yTicks3)],
  legend:[lg(322.7), lg(888.3)],
  series:[
    ln('Std Anomalies', u1StdAnomHi, 0, C_STD_ANOM, true, 2),
    ln('Std Anomalies', u1StdAnomLo, 0, C_STD_ANOM, true, 2),
    ln('Std Background', u1StdBgHi, 0, C_STD_BG, true, 3),
    ln('Std Background', u1StdBgLo, 0, C_STD_BG, true, 3),
    ln('Mean Anomalies', u1MeanAnom, 0, C_MEAN_ANOM, false, 4),
    ln('Mean Background', u1MeanBg, 0, C_MEAN_BG, false, 5),
    ln('Std Anomalies', u3StdAnomHi, 1, C_STD_ANOM, true, 2),
    ln('Std Anomalies', u3StdAnomLo, 1, C_STD_ANOM, true, 2),
    ln('Std Background', u3StdBgHi, 1, C_STD_BG, true, 3),
    ln('Std Background', u3StdBgLo, 1, C_STD_BG, true, 3),
    ln('Mean Anomalies', u3MeanAnom, 1, C_MEAN_ANOM, false, 4),
    ln('Mean Background', u3MeanBg, 1, C_MEAN_BG, false, 5)
  ],
  graphic:[
    {type:'text', x:308, y:19, style:{text:'Mean and Std spectral signatures for abu-urban-1', fontSize:17.5, fontFamily:FONT, fill:'#000', align:'center', verticalAlign:'middle'}},
    {type:'text', x:873, y:19, style:{text:'Mean and Std spectral signatures for abu-urban-3', fontSize:17.5, fontFamily:FONT, fill:'#000', align:'center', verticalAlign:'middle'}},
    {type:'text', x:281, y:586, style:{text:'{b|(a)}{r|abu-urban-1}', align:'center', verticalAlign:'middle', rich:capRich}},
    {type:'text', x:851, y:586, style:{text:'{b|(b)}{r|abu-urban-3}', align:'center', verticalAlign:'middle', rich:capRich}}
  ]
});
</script></body></html>
